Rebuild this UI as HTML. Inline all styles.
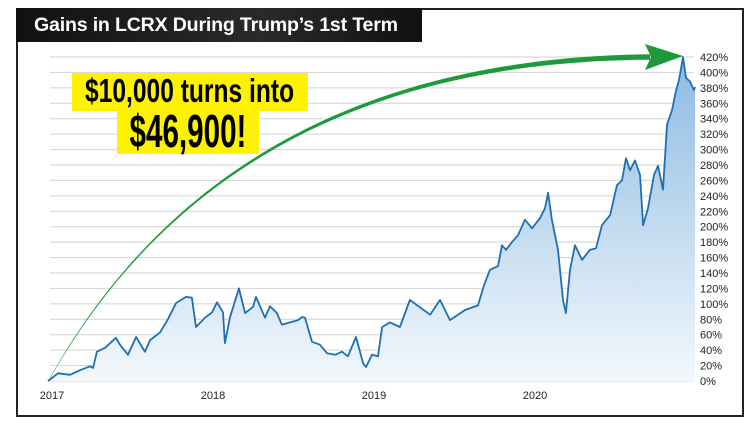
<!DOCTYPE html>
<html><head><meta charset="utf-8">
<style>
html,body{margin:0;padding:0;background:#fff;}
body{width:756px;height:425px;position:relative;overflow:hidden;font-family:"Liberation Sans",sans-serif;}
#frame{position:absolute;left:16px;top:8px;width:724px;height:405px;border:2px solid #222;box-sizing:content-box;}
#title{position:absolute;left:16px;top:8px;width:406px;height:34px;background:linear-gradient(90deg,#111,#2a2a2a 60%,#111);color:#fff;font-weight:bold;font-size:19.6px;line-height:34px;padding-left:18px;box-sizing:border-box;letter-spacing:-0.2px;white-space:nowrap;}
.hl{position:absolute;background:#fff200;color:#000;font-family:"Liberation Sans",sans-serif;font-weight:bold;white-space:nowrap;display:flex;justify-content:center;align-items:center;}
.hl span{display:block;flex:none;transform-origin:center center;}
#hl1{left:72px;top:73px;width:236px;height:38px;font-size:30px;line-height:38px;}
#hl1 span{transform:scale(0.82,1.1);}
#hl2{left:117px;top:110px;width:142px;height:44px;font-size:40px;line-height:44px;}
#hl2 span{transform:scale(0.74,1.15);}
svg{position:absolute;left:0;top:0;}
</style></head><body>
<div id="frame"></div>
<svg id="chart" width="756" height="425">
<defs>
<linearGradient id="fillg" x1="0" y1="0" x2="0" y2="1">
<stop offset="0" stop-color="#8dbbe2"/>
<stop offset="1" stop-color="#f3f8fc"/>
</linearGradient>
</defs>
<g id="grid"></g><g id="ylabels"></g><g id="xlabels"></g><g id="series"></g><g id="arrow"></g>
</svg>
<div id="title">Gains in LCRX During Trump’s 1st Term</div>
<div class="hl" id="hl1"><span>$10,000 turns into</span></div>
<div class="hl" id="hl2"><span>$46,900!</span></div>
<script>
const dates=[2017.000,2017.062,2017.137,2017.199,2017.261,2017.280,2017.304,2017.354,2017.422,2017.447,2017.497,2017.547,2017.602,2017.634,2017.696,2017.745,2017.795,2017.857,2017.894,2017.919,2017.975,2018.019,2018.050,2018.087,2018.099,2018.130,2018.186,2018.224,2018.273,2018.292,2018.348,2018.379,2018.422,2018.453,2018.503,2018.553,2018.578,2018.596,2018.640,2018.689,2018.733,2018.783,2018.826,2018.863,2018.913,2018.957,2018.975,2019.012,2019.050,2019.075,2019.124,2019.186,2019.248,2019.373,2019.435,2019.497,2019.590,2019.671,2019.708,2019.745,2019.795,2019.820,2019.845,2019.882,2019.919,2019.963,2020.006,2020.056,2020.087,2020.106,2020.130,2020.168,2020.199,2020.217,2020.242,2020.273,2020.317,2020.366,2020.404,2020.441,2020.491,2020.534,2020.565,2020.590,2020.615,2020.646,2020.677,2020.696,2020.727,2020.764,2020.789,2020.820,2020.845,2020.876,2020.901,2020.919,2020.944,2020.963,2020.988,2021.012,2021.019];
const gains=[0,10,8,14,19,17,38,43,56,47,34,57,38,53,63,80,101,109,108,70,82,89,102,89,49,82,120,88,96,109,82,97,88,73,76,79,83,82,51,47,36,34,38,32,57,23,18,34,32,70,76,70,105,86,105,79,92,98,124,144,149,176,170,180,189,209,198,211,224,244,209,170,105,88,144,176,157,170,172,202,215,254,260,289,273,286,267,202,224,267,279,248,332,351,377,390,420,393,388,377,381];
const yTicks=[0,20,40,60,80,100,120,140,160,180,200,220,240,260,280,300,320,340,360,380,400,420];
const xTicks=[2017,2018,2019,2020];
const NS="http://www.w3.org/2000/svg";
const X=d=>48+(d-2017)*161;
const Y=v=>381-v*(324/420);
function mk(tag,attrs,parent){const e=document.createElementNS(NS,tag);for(const k in attrs)e.setAttribute(k,attrs[k]);parent.appendChild(e);return e;}
const grid=document.getElementById('grid'),yl=document.getElementById('ylabels'),xl=document.getElementById('xlabels'),ser=document.getElementById('series'),arr=document.getElementById('arrow');
yTicks.forEach(t=>{
 const l=mk('line',{x1:50,x2:694,y1:Y(t),y2:Y(t),stroke:'#d2d2d2','stroke-width':1},grid);
 
 
 const tx=mk('text',{x:700,y:Y(t)+4,'font-size':11,fill:'#222','font-family':'Liberation Sans, sans-serif'},yl);
 tx.textContent=t+'%';
 
 
});
xTicks.forEach(t=>{
 const tx=mk('text',{x:X(t)+4,y:399,'font-size':11,fill:'#222','text-anchor':'middle','font-family':'Liberation Sans, sans-serif'},xl);
 tx.textContent=t;
 
 
});
let d='';dates.forEach((dt,i)=>{d+=(i?'L':'M')+X(dt).toFixed(1)+','+Y(gains[i]).toFixed(1);});
const area=mk('path',{d:d+'L'+X(dates[dates.length-1]).toFixed(1)+','+Y(0)+'L'+X(dates[0])+','+Y(0)+'Z',fill:'url(#fillg)'},ser);


const line=mk('path',{d:d,fill:'none',stroke:'#1f6fb5','stroke-width':1.8,'stroke-linejoin':'round'},ser);


const P0=[50,378],P1=[230,60],P2=[650,57];
const L=[],R=[];
for(let i=0;i<=60;i++){const t=i/60;
 const x=(1-t)*(1-t)*P0[0]+2*(1-t)*t*P1[0]+t*t*P2[0];
 const y=(1-t)*(1-t)*P0[1]+2*(1-t)*t*P1[1]+t*t*P2[1];
 const dx=2*(1-t)*(P1[0]-P0[0])+2*t*(P2[0]-P1[0]);
 const dy=2*(1-t)*(P1[1]-P0[1])+2*t*(P2[1]-P1[1]);
 const n=Math.hypot(dx,dy),w=(0.4+5*t)/2;
 L.push([x-dy/n*w,y+dx/n*w]);R.push([x+dy/n*w,y-dx/n*w]);}
const pts=L.concat(R.reverse()).map(p=>p[0].toFixed(1)+','+p[1].toFixed(1)).join(' ');
const shaft=mk('polygon',{points:pts,fill:'#1e9a3c'},arr);


const head=mk('polygon',{points:'645,44 683,56 645,70 651,57',fill:'#1e9a3c'},arr);


</script>
</body></html>
